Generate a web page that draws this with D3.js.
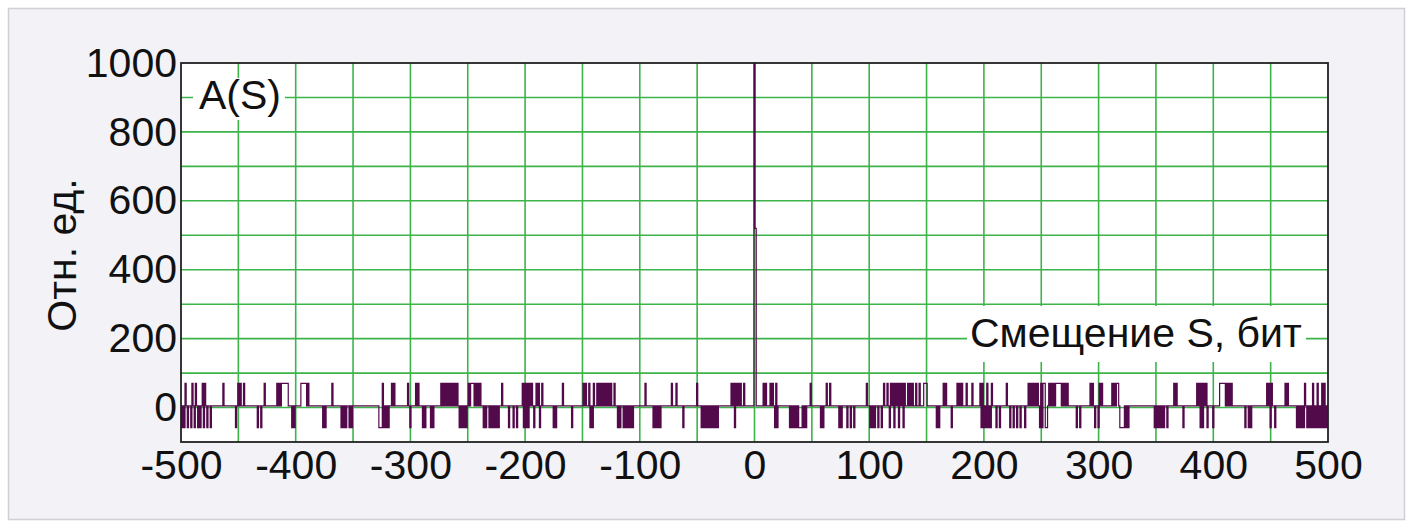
<!DOCTYPE html>
<html><head><meta charset="utf-8">
<script src="https://cdn.jsdelivr.net/npm/d3@7"></script>
<style>html,body{margin:0;padding:0;background:#fff;}svg{display:block;}</style>
</head><body>
<svg id="c" width="1413" height="528"></svg>
<script>
// ---- data ----
const xTicks = [-500,-400,-300,-200,-100,0,100,200,300,400,500];
const yTicks = [0,200,400,600,800,1000];
const xGrid = [-450,-400,-350,-300,-250,-200,-150,-100,-50,0,50,100,150,200,250,300,350,400,450];
const yGrid = [0,100,200,300,400,500,600,700,800,900];
const levelUp = 70, levelBase = 5, levelDown = -58;
const peakS = [0, 1];
const peakV = [1000, 520];
const upS = [-496,-490,-487,-481,-479,-463,-450,-448,-445,-427,-416,-414,-412,-411,-410,-409,-408,-407,
  -395,-394,-393,-392,-391,-389,-368,-324,-316,-314,-302,-295,-293,-273,-271,-269,-267,-265,-263,-261,-259,
  -249,-247,-246,-245,-243,-241,-239,-220,-202,-200,-198,-196,-194,-190,-188,-185,-167,
  -149,-147,-144,-140,-137,-135,-133,-131,-129,-127,-125,-122,-95,-72,-68,-50,-20,-18,-16,-14,-12,-9,
  8,10,14,16,19,49,63,66,98,113,116,119,121,123,125,127,129,131,134,136,138,141,144,148,149,150,
  165,167,177,179,181,185,190,197,199,203,207,220,239,241,243,245,247,
  250,252,253,257,259,261,263,264,265,266,267,269,271,273,293,295,301,303,312,314,316,317,366,368,
  386,388,390,392,394,406,407,408,409,410,412,414,416,447,449,451,463,465,480,487,491,495,497];
const downS = [-499,-497,-494,-491,-488,-485,-483,-480,-477,-474,-452,-433,-430,-403,-401,-376,-374,
  -360,-358,-356,-353,-351,-327,-326,-325,-323,-321,-319,-300,-289,-287,-282,-280,-257,-255,-253,-251,
  -236,-234,-231,-229,-227,-225,-223,-214,-210,-207,-201,-199,-197,-192,-187,-175,-173,-159,-143,-141,
  -119,-117,-114,-112,-110,-108,-106,-88,-86,-84,-82,-62,-46,-44,-42,-40,-38,-36,-34,-32,-17,
  18,20,31,33,35,37,39,40,41,43,45,58,60,74,76,81,84,87,101,103,105,108,111,118,122,126,130,
  159,161,172,198,200,202,204,206,211,214,223,226,229,232,236,
  249,251,254,255,281,284,297,300,319,320,321,322,324,326,349,351,353,355,357,360,374,389,391,395,400,
  428,431,433,450,454,473,475,477,479,482,484,486,488,490,492,494,496,498,500];

// build series
const valMap = new Map();
for (let s = -500; s <= 500; s++) valMap.set(s, levelBase);
upS.forEach(s => valMap.set(s, levelUp));
downS.forEach(s => valMap.set(s, levelDown));
peakS.forEach((s,i) => valMap.set(s, peakV[i]));
const series = Array.from(valMap, ([s,v]) => ({s, v})).sort((a,b)=>a.s-b.s);

// ---- drawing ----
const svg = d3.select("#c");
const FONT = "'Liberation Sans', Arial, sans-serif";
const FS = 41;
svg.append("rect").attr("x",8.5).attr("y",8.5).attr("width",1396).attr("height",511)
  .attr("fill","#f2f2f7").attr("stroke","#cfcfd6").attr("stroke-width",1.5);

const L=181, R=1328, T=63, B=442;
const x = d3.scaleLinear().domain([-500,500]).range([L,R]);
const y = d3.scaleLinear().domain([-100,1000]).range([B,T]);

svg.append("rect").attr("x",L).attr("y",T).attr("width",R-L).attr("height",B-T).attr("fill","#fff");

const grid = svg.append("g").attr("stroke","#3db449").attr("stroke-width",1.6);
grid.selectAll("line.v").data(xGrid).join("line").attr("class","v")
  .attr("x1",d=>x(d)).attr("x2",d=>x(d)).attr("y1",T).attr("y2",B);
grid.selectAll("line.h").data(yGrid).join("line").attr("class","h")
  .attr("x1",L).attr("x2",R).attr("y1",d=>y(d)).attr("y2",d=>y(d));

// trace
const line = d3.line().x(d=>x(d.s)).y(d=>y(d.v)).curve(d3.curveStep);
svg.append("path").datum(series).attr("d",line).attr("fill","none")
  .attr("stroke","#520a4a").attr("stroke-width",1.2);

// labels with white boxes
function boxed(txt, tx, ty, pad) {
  const g = svg.append("g");
  const r = g.append("rect").attr("fill","#fff");
  const t = g.append("text").attr("x",tx).attr("y",ty).attr("font-family",FONT)
    .attr("font-size",FS).attr("fill","#111").text(txt);
  const bb = t.node().getBBox();
  r.attr("x",bb.x-pad[0]).attr("y",bb.y+pad[1]).attr("width",bb.width+pad[0]+pad[2])
   .attr("height",bb.height-pad[1]+pad[3]);
}
boxed("A(S)", 199, 109, [6,6,4,2]);
boxed("Смещение S, бит", 970, 347, [3,-4,4,6]);

// frame
svg.append("rect").attr("x",L).attr("y",T).attr("width",R-L).attr("height",B-T)
  .attr("fill","none").attr("stroke","#222").attr("stroke-width",1.8);

// axes (tick labels only)
const yAxis = d3.axisLeft(y).tickValues(yTicks).tickSize(0).tickPadding(4).tickFormat(d3.format("d"));
const gy = svg.append("g").attr("transform",`translate(${L},0)`).call(yAxis);
gy.select(".domain").remove();
gy.selectAll("text").attr("font-family",FONT).attr("font-size",FS).attr("fill","#111");

const xAxis = d3.axisBottom(x).tickValues(xTicks).tickSize(0).tickPadding(8)
  .tickFormat(d => d < 0 ? "-" + Math.abs(d) : String(d));
const gx = svg.append("g").attr("transform",`translate(0,${B})`).call(xAxis);
gx.select(".domain").remove();
gx.selectAll("text").attr("font-family",FONT).attr("font-size",FS).attr("fill","#111");

svg.append("text").attr("transform","translate(76,255) rotate(-90)")
  .attr("text-anchor","middle").attr("font-family",FONT).attr("font-size",FS)
  .attr("fill","#111").text("Отн. ед.");
</script>
</body></html>
